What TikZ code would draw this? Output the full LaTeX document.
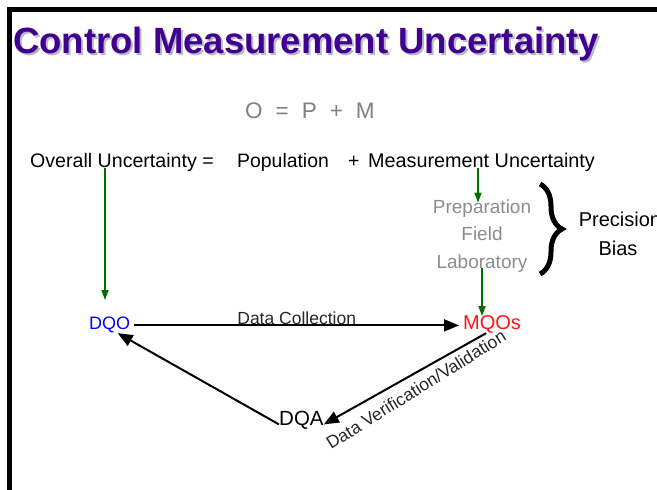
\documentclass[tikz,border=0pt]{standalone}
\usepackage{fontspec}
\setmainfont{Liberation Sans}
\usetikzlibrary{arrows.meta,decorations.pathreplacing}
\definecolor{titlepurple}{RGB}{64,0,144}
\definecolor{shadowgray}{RGB}{185,185,195}
\definecolor{midgray}{RGB}{128,128,128}
\definecolor{lightgraytext}{RGB}{140,140,140}
\definecolor{arrowgreen}{RGB}{0,110,0}
\definecolor{dqoblue}{RGB}{0,0,255}
\definecolor{mqored}{RGB}{255,20,20}
\tikzset{
  txt/.style={inner sep=0pt, anchor=base west},
  ctxt/.style={inner sep=0pt, anchor=base},
  fs/.style={font=\fontsize{#1}{#1}\selectfont},
  titlefont/.style={font=\fontsize{36.5}{40}\selectfont\bfseries},
  term/.style={inner xsep=3pt, inner ysep=4pt, anchor=base west, text height=0.72em, text depth=0pt},
  bigarrow/.style={line width=2pt, -{Triangle[length=15pt,width=12pt]}},
  greenarrow/.style={draw=arrowgreen, line width=1.6pt, -{Triangle[length=10pt,width=7pt]}, arrowgreen},
  frame/.style={line width=5pt, line cap=rect}
}
\begin{document}
\begin{tikzpicture}[x=1pt,y=-1pt]
\useasboundingbox (0,0) rectangle (657,490);
% frame
\draw[frame] (9.5,490) -- (9.5,9.5) -- (660,9.5);
% title
\node[txt, titlefont, text=shadowgray] (titleshadow) at (15,55) {Control Measurement Uncertainty};
\node[txt, titlefont, text=titlepurple] (title) at (13,53) {Control Measurement Uncertainty};
% equation
\node[txt, fs=22.5, text=midgray] (eq) at (245,118) {O\hspace{13pt}=\hspace{13pt}P\hspace{13pt}+\hspace{13pt}M};
% overall line
\node[txt, fs=19.6] (overall) at (30,167) {Overall Uncertainty =};
\node[txt, fs=19.4] (population) at (237,167) {Population};
\node[txt, fs=19.5] (plus) at (348,167) {+};
\node[txt, fs=19.8] (measurement) at (368,167) {Measurement Uncertainty};
% components
\node[ctxt, fs=19, text=lightgraytext, text height=0.72em, text depth=0pt, inner ysep=3pt] (prep) at (482,213) {Preparation};
\node[ctxt, fs=19, text=lightgraytext] (field) at (482,240) {Field};
\node[ctxt, fs=19, text=lightgraytext, text depth=0pt] (lab) at (482,268) {Laboratory};
% brace
\draw[line width=5pt, decorate, decoration={brace, amplitude=22pt}] (540,184) -- (540,274);
\node[ctxt, fs=20] (precision) at (620,226) {Precision};
\node[ctxt, fs=20] (bias) at (618,255) {Bias};
% cycle nodes
\node[term, fs=18, text=dqoblue, inner xsep=4pt] (dqo) at (85,329) {DQO};
\node[term, fs=20, text=mqored, inner xsep=4pt] (mqos) at (459,329) {MQOs};
\node[term, fs=20.5, inner xsep=0pt, inner ysep=0pt] (dqa) at (279,425) {DQA};
% green arrows
\coordinate (g1) at (105,168);
\coordinate (g2) at (478,168);
\draw[greenarrow] (g1) -- (g1 |- 0,300);
\draw[greenarrow] (g2) -- (g2 |- prep.north);
\draw[greenarrow] (lab.south) -- ++(0,48);
% cycle arrows
\draw[bigarrow] (dqo.east) -- (mqos.west)
  node[pos=0.5, ctxt, fs=17.5, text=black!85, yshift=0.8pt] (collect) {Data Collection};
\draw[bigarrow] ([xshift=-6pt]mqos.south) -- ([yshift=-3pt]dqa.east);
\draw[bigarrow] ([yshift=-3pt]dqa.west) -- ([xshift=8pt]dqo.south);
\node[txt, fs=17.5, rotate=32, text=black!85] (verif) at (331,450) {Data Verification/Validation};
\end{tikzpicture}
\end{document}
